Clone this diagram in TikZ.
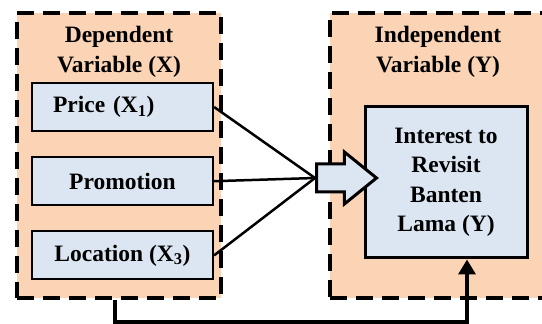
\documentclass[tikz,border=0pt]{standalone}
\usepackage{fontspec}
\setmainfont{Liberation Serif}
\usetikzlibrary{arrows.meta, positioning, shapes.arrows}

\definecolor{peach}{RGB}{250,212,180}
\definecolor{paleblue}{RGB}{220,230,242}

\begin{document}
\begin{tikzpicture}[
  x=1pt, y=1pt,
  node distance=24pt,
  varbox/.style={draw, dash pattern=on 17pt off 9pt, line width=3.6pt, fill=peach, inner sep=0pt},
  title/.style={align=center, font=\fontsize{23.5}{29.5}\selectfont\bfseries},
  item/.style={draw, line width=2.2pt, fill=paleblue, minimum width=181pt, minimum height=48pt, inner sep=0pt, font=\fontsize{23.5}{29.5}\selectfont\bfseries},
  link/.style={line width=2.5pt},
  feedback/.style={-{Triangle[length=15pt, width=17pt]}, line width=3.5pt}
]
  \fill[white] (0,0) rectangle (542,324);
  \useasboundingbox (0,0) rectangle (542,324);

  % the two variable groups
  \node[varbox, minimum width=204pt, minimum height=285pt] (depbox) at (119,168.5) {};
  \node[varbox, minimum width=218pt, minimum height=285pt] (indbox) at (439,168.5) {};
  \node[title] (deptitle) at (119,272) {Dependent\\Variable (X)};
  \node[title] (indtitle) at (438,272) {Independent\\Variable (Y)};

  % independent factors
  \node[item, text width=139pt, inner xsep=21pt, align=left] (price) at (122.5,217) {Price (X\textsubscript{1})};
  \node[item, below=of price] (promo) {Promotion};
  \node[item, below=of promo] (location) {Location (X\textsubscript{3})};

  % outcome
  \node[item, line width=3pt, minimum width=162pt, minimum height=151pt, align=center] (interest) at (446,141.5) {Interest to\\Revisit\\Banten\\Lama (Y)};

  \node[single arrow, draw, line width=3pt, fill=paleblue, minimum height=60pt, inner xsep=0pt, inner ysep=12.5pt,
        single arrow head extend=12pt, single arrow tip angle=78, anchor=tail] (merge) at (315,146) {};

  \draw[link] (price.east) -- (merge.tail);
  \draw[link] (promo.east) -- (merge.tail);
  \draw[link] (location.east) -- (merge.tail);

  \draw[feedback] ([xshift=-4pt]depbox.south) -- ++(0,-22) -| ([xshift=21pt]interest.south);
\end{tikzpicture}
\end{document}
